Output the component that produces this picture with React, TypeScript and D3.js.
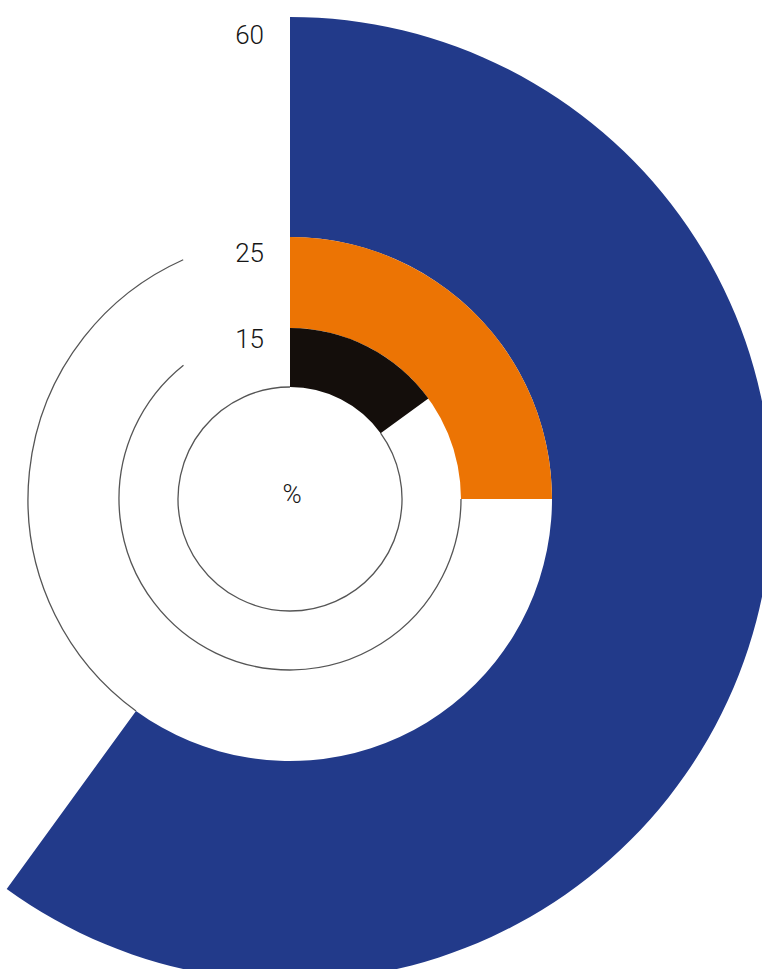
import React, { useRef, useEffect } from 'react';
import * as d3 from 'd3';

// one ring per value, outermost first
const ringNames = ['outer', 'middle', 'inner'];
const ringValues = [60, 25, 15];
const ringLabels = ['60', '25', '15'];
const ringColors = ['#223a8a', '#ec7404', '#140e0b'];
const unitLabel = '%';

const width = 762;
const height = 969;
const cx = 290;
const cy = 499;
// ring band edges, outer to inner
const radii = [482, 262, 171, 112];
// vertical offset of each label centre below its ring's outer edge
const labelOffsets = [18, 16, 11];
// pixel length of the gap left in the track outline for the label
const gapLength = [110, 115, 0];

const App = () => {
  const svgRef = useRef<SVGSVGElement>(null);

  useEffect(() => {
    const svg = d3.select(svgRef.current);
    svg.selectAll('*').remove();

    const angle = d3.scaleLinear().domain([0, 100]).range([0, 2 * Math.PI]);

    const g = svg.append('g').attr('transform', `translate(${cx},${cy})`);

    const arc = d3.arc<any>()
      .innerRadius((d) => d.inner)
      .outerRadius((d) => d.outer)
      .startAngle(0)
      .endAngle((d) => angle(d.value));

    const rings = ringNames.map((name, i) => ({
      name,
      value: ringValues[i],
      label: ringLabels[i],
      color: ringColors[i],
      outer: radii[i],
      inner: radii[i + 1],
      offset: labelOffsets[i],
      gap: gapLength[i],
    }));

    // thin track outline along the inner edge of each ring
    rings.forEach((d) => {
      const r = d.inner;
      const start = angle(d.value) - Math.PI / 2;
      const end = 2 * Math.PI - d.gap / r - Math.PI / 2;
      const p = d3.path();
      p.moveTo(r * Math.cos(start), r * Math.sin(start));
      p.arc(0, 0, r, start, end);
      g.append('path')
        .attr('d', p.toString())
        .attr('fill', 'none')
        .attr('stroke', '#555')
        .attr('stroke-width', 1.3);
    });

    g.selectAll('.ring')
      .data(rings)
      .enter()
      .append('path')
      .attr('class', 'ring')
      .attr('d', arc)
      .attr('fill', (d) => d.color);

    g.selectAll('.label')
      .data(rings)
      .enter()
      .append('text')
      .attr('class', 'label')
      .attr('x', -26)
      .attr('y', (d) => -d.outer + d.offset)
      .attr('dy', '0.36em')
      .attr('text-anchor', 'end')
      .attr('font-family', 'Roboto, "Liberation Sans", sans-serif')
      .attr('font-weight', 300)
      .attr('font-size', 26)
      .attr('fill', '#161616')
      .text((d) => d.label);

    g.append('text')
      .attr('x', 2)
      .attr('y', -5)
      .attr('dy', '0.36em')
      .attr('text-anchor', 'middle')
      .attr('font-family', 'Roboto, "Liberation Sans", sans-serif')
      .attr('font-weight', 300)
      .attr('font-size', 26)
      .attr('fill', '#161616')
      .text(unitLabel);
  }, []);

  return (
    <svg
      ref={svgRef}
      width={width}
      height={height}
      style={{ position: 'absolute', left: 0, top: 0, background: '#fff' }}
    />
  );
};

export default App;
